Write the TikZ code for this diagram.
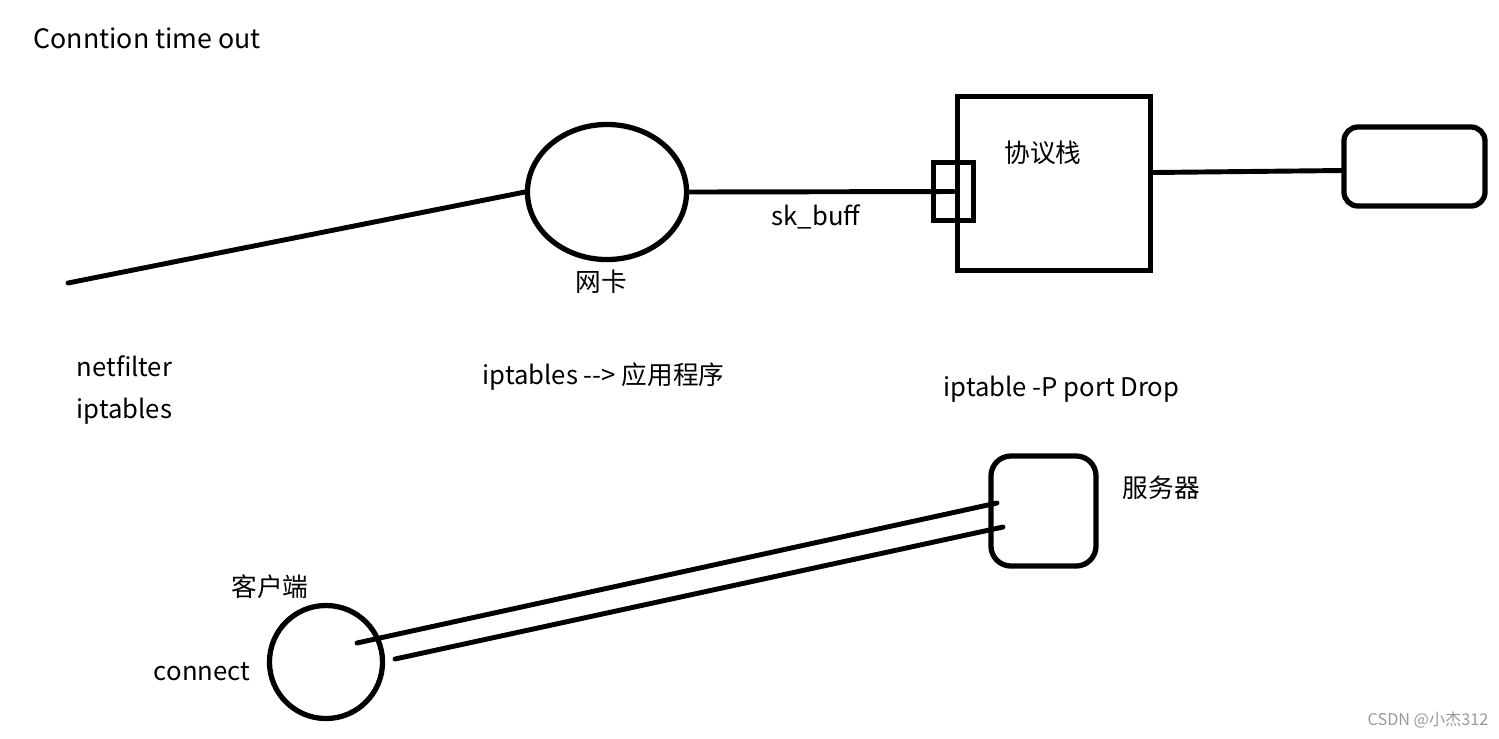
\documentclass[tikz,border=0pt]{standalone}
\usepackage{fontspec}
\setmainfont{Noto Sans CJK SC}
\usetikzlibrary{shapes.geometric,positioning}
\tikzset{
  pen/.style={line width=1.5pt,draw=black},
  nicbox/.style={ellipse,pen,minimum width=1.59cm,minimum height=1.35cm,inner sep=0pt},
  stackbox/.style={rectangle,pen,minimum width=1.93cm,minimum height=1.74cm,inner sep=0pt},
  portbox/.style={rectangle,pen,minimum width=0.40cm,minimum height=0.58cm,inner sep=0pt},
  appbox/.style={rectangle,rounded corners=0.14cm,pen,minimum width=1.41cm,minimum height=0.79cm,inner sep=0pt},
  srvbox/.style={rectangle,rounded corners=0.2cm,pen,minimum width=1.05cm,minimum height=1.10cm,inner sep=0pt},
  clibox/.style={circle,pen,minimum size=1.13cm,inner sep=0pt},
  lbl/.style={font=\fontsize{7.3}{9}\selectfont,inner sep=0pt},
  wmark/.style={font=\fontsize{4.6}{5}\selectfont,text=black!40,inner sep=0pt},
  link/.style={line width=1.4pt,line cap=round}
}

\begin{document}
\begin{tikzpicture}[x=0.01cm,y=-0.01cm]
  \useasboundingbox (0,0) rectangle (1499,738);

  % top row
  \node[lbl,anchor=west,font=\fontsize{7.6}{9}\selectfont] (title) at (33,38) {Conntion time out};
  \coordinate (wire) at (68,283);
  \node[nicbox] (nic) at (607,192) {};
  \node[stackbox] (stack) at (1054,183.5) {};
  \node[portbox] (port) at (953.5,191.5) {};
  \node[appbox] (app) at (1414.5,166.5) {};

  \node[lbl] (niclbl) at (601,282) {网卡};
  \node[lbl] (skb) at (816,217) {sk\_buff};
  \node[lbl] (stacklbl) at (1043,153) {协议栈};

  \draw[link] (wire) -- (nic.west);
  \draw[link] (nic.east) -- (port.center);
  \draw[link] ([yshift=0.11cm]stack.east) -- ([yshift=-0.04cm]app.west);

  % middle notes
  \node[lbl,anchor=west] (nf) at (76,366) {netfilter};
  \node[lbl,anchor=west] (ipt) at (76,411) {iptables};
  \node[lbl,anchor=west] (iptapp) at (482,377) {iptables -\kern0pt-\kern0pt> 应用程序};
  \node[lbl,anchor=west] (drop) at (943,389) {iptable -P port Drop};

  % bottom row
  \node[srvbox] (srv) at (1043.5,511) {};
  \node[lbl,anchor=west] (srvlbl) at (1122,488) {服务器};
  \node[clibox] (cli) at (326,662) {};
  \node[lbl] (clilbl) at (270,587) {客户端};
  \node[lbl] (conn) at (202,672) {connect};

  \draw[link] ([xshift=0.31cm,yshift=0.19cm]cli.center) -- ([xshift=-0.465cm,yshift=0.08cm]srv.center);
  \draw[link] ([xshift=0.69cm,yshift=0.03cm]cli.center) -- ([xshift=-0.405cm,yshift=-0.16cm]srv.center);

  \node[wmark] (wm) at (1428,720) {CSDN @小杰312};
\end{tikzpicture}
\end{document}
